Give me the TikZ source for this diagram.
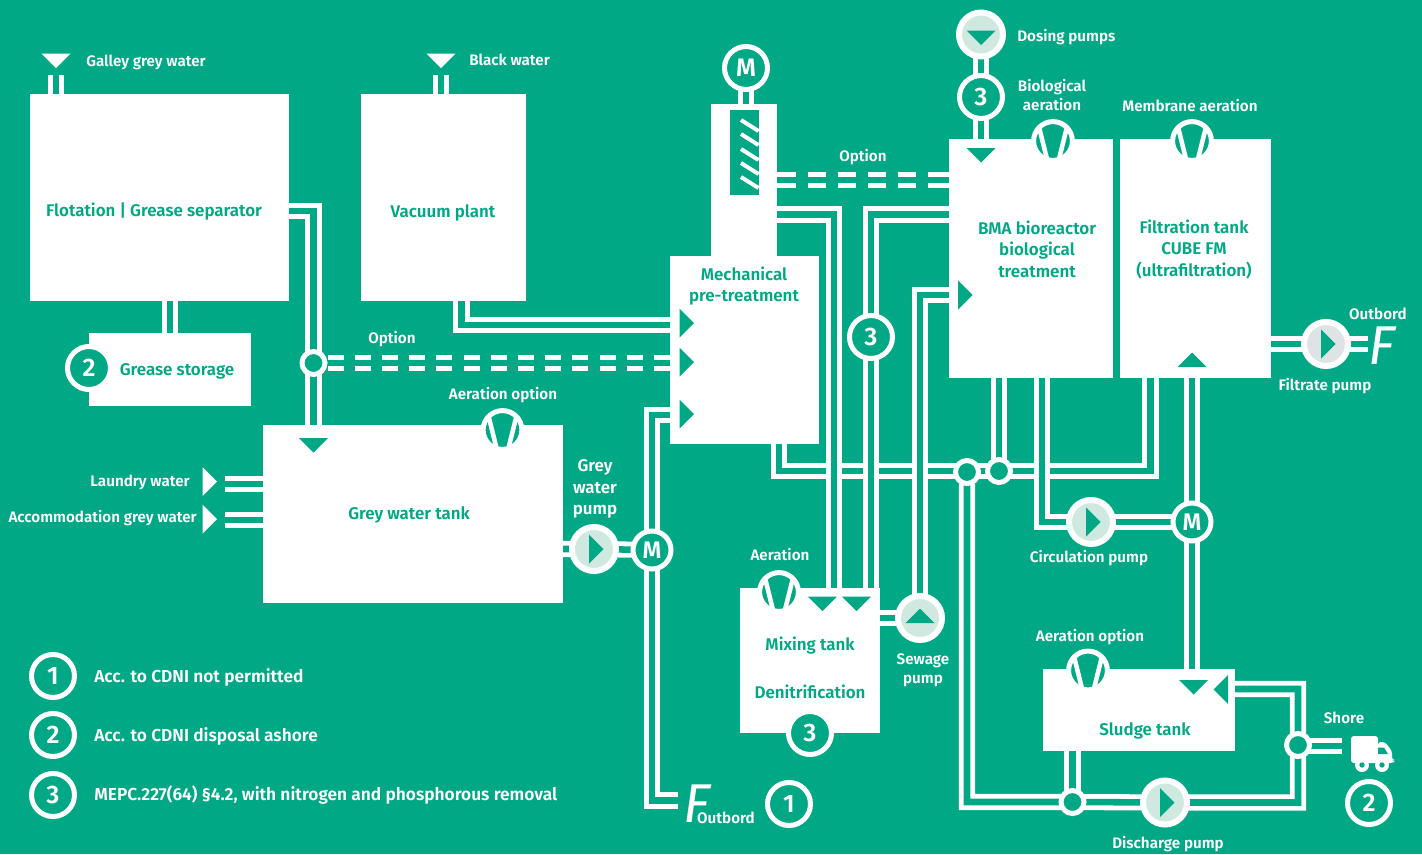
\documentclass[tikz,border=0pt]{standalone}
\usepackage{fontspec}
\setmainfont{Fira Sans}[BoldFont={Fira Sans SemiBold}]
\definecolor{bgreen}{RGB}{0,168,134}
\definecolor{lightdisk}{RGB}{207,232,224}
\definecolor{greydisk}{RGB}{222,227,230}
\pgfdeclarelayer{pipes}
\pgfsetlayers{pipes,main}
\tikzset{
  pipe/.style={draw=white,line width=3.6pt,double=bgreen,double distance=4.9pt},
  dashpipe/.style={pipe,dash pattern=on 12pt off 8.4pt},
  dashpipeb/.style={pipe,dash pattern=on 15.75pt off 9pt on 13.5pt off 9pt on 13.5pt off 9pt on 13.5pt off 9pt on 13.5pt off 9pt on 15pt off 9pt},
  tank/.style={fill=white,inner sep=0pt,outer sep=0pt,rectangle},
  ring/.style={circle,fill=bgreen,draw=white,line width=3.75pt,inner sep=0pt,outer sep=0pt,minimum size=32.25pt,text=white,font=\fontsize{19}{21}\selectfont\bfseries},
  motor/.style={ring,minimum size=28.5pt,font=\fontsize{18}{20}\selectfont\bfseries},
  junction/.style={ring,minimum size=17.25pt},
  pumpdisk/.style={circle,fill=lightdisk,draw=white,line width=4.5pt,inner sep=0pt,outer sep=0pt,minimum size=33pt},
  aerdisk/.style={circle,fill=bgreen,draw=white,line width=3.75pt,inner sep=0pt,outer sep=0pt,minimum size=29.1pt},
  lab/.style={text=white,inner sep=0pt,align=center,font=\fontsize{11.4}{14.2}\selectfont\bfseries},
  tlab/.style={text=bgreen,inner sep=0pt,align=center,font=\fontsize{12.7}{16.2}\selectfont\bfseries},
  leg/.style={text=white,inner sep=0pt,anchor=west,font=\fontsize{13}{15}\selectfont\bfseries},
  fmark/.style={text=white,inner sep=0pt,font=\fontsize{41}{41}\selectfont\itshape},
}
\newcommand\TriD[3][bgreen]{\fill[#1] (#2-14.5,#3) -- (#2+14.5,#3) -- (#2,#3+14.5) -- cycle;}
\newcommand\TriU[3][bgreen]{\fill[#1] (#2-14.5,#3) -- (#2+14.5,#3) -- (#2,#3-14.5) -- cycle;}
\newcommand\TriR[3][bgreen]{\fill[#1] (#2,#3-14.5) -- (#2,#3+14.5) -- (#2+14.5,#3) -- cycle;}
\newcommand\TriL[3][bgreen]{\fill[#1] (#2,#3-14.5) -- (#2,#3+14.5) -- (#2-14.5,#3) -- cycle;}
\newcommand\Tank[5]{\node[tank,minimum width={(#4-#2)*0.75pt},minimum height={(#5-#3)*0.75pt}] (#1) at ({(#2+#4)/2},{(#3+#5)/2}) {};}
\newcommand\Aerator[3]{%
  \node[aerdisk] (#1) at (#2,#3) {};
  \begin{scope}
    \clip (#2,#3) circle [radius=17.5];
    \draw[white,line width=3.4pt] (#2-15,#3-18) -- (#2-6,#3+18);
    \draw[white,line width=3.4pt] (#2+15,#3-18) -- (#2+6,#3+18);
  \end{scope}}
\begin{document}
\begin{tikzpicture}[x=0.75pt,y=-0.75pt]
\useasboundingbox (0,0) rectangle (1422,854);
\begin{pgfonlayer}{pipes}
\fill[bgreen] (0,0) rectangle (1422,854);
\end{pgfonlayer}
% tanks
\Tank{flot}{30}{94}{289}{301}
\Tank{grease}{89}{333}{251}{406}
\Tank{vac}{361}{94}{526}{301}
\Tank{gwt}{263}{425}{563}{603}
\Tank{tower}{711}{104}{777}{256}
\Tank{mech}{670}{256}{819}{444}
\Tank{bma}{949}{139}{1113}{378}
\Tank{fil}{1120}{139}{1271}{378}
\Tank{mix}{740}{588}{880}{733}
\Tank{sludge}{1043}{669}{1235}{751}
% screw
\fill[bgreen] (730,110) rectangle (758.5,195);
\foreach \yy in {120,134,149,163,177}
  \draw[white,line width=3pt] (741,\yy) -- (758.5,\yy+11);
% rings and pumps
\node[ring] (s1) at (789,804) {1};
\node[ring] (s2g) at (89,368) {2};
\node[ring] (s2s) at (1369,803) {2};
\node[ring] (s3a) at (871,337) {3};
\node[ring] (s3b) at (981,97) {3};
\node[ring] (s3c) at (810,733) {3};
\node[ring] (l1) at (53,676) {1};
\node[ring] (l2) at (53,735) {2};
\node[ring] (l3) at (53,795) {3};
\node[ring] (m0) at (746,68) {M};
\node[motor] (m1) at (652,550) {M};
\node[motor] (m2) at (1192,522) {M};
\node[junction] (j1) at (313.5,363) {};
\node[junction] (j2) at (967,472) {};
\node[junction] (j3) at (999,471) {};
\node[junction] (j4) at (1072.5,802) {};
\node[junction] (j5) at (1298,745) {};
\node[pumpdisk] (pgw) at (594,549) {};
\node[pumpdisk] (pcirc) at (1091,522) {};
\node[pumpdisk] (pdis) at (1165,802.5) {};
\node[pumpdisk] (psew) at (920,618) {};
\node[pumpdisk] (pdos) at (981,34.5) {};
\node[pumpdisk,fill=greydisk] (pfil) at (1326,344) {};
\TriR{589}{549}
\TriR{1086}{522}
\TriR{1160}{802.5}
\TriR{1321}{344}
\TriU{920}{623}
\TriD{981}{30.5}
% aerators
\Aerator{a1}{502.5}{430}
\Aerator{a2}{779}{592}
\Aerator{a3}{1053}{141}
\Aerator{a4}{1192}{141}
\Aerator{a5}{1088}{670.5}
% triangles
\TriD[white]{56}{53.5}
\TriD[white]{441}{53.5}
\TriR[white]{202.5}{481.5}
\TriR[white]{202.5}{519}
\TriD{313.5}{438}
\TriR{679.5}{323}
\TriR{679.5}{362}
\TriR{679.5}{414}
\TriD{981}{148}
\TriR{958}{295}
\TriU{1192}{367}
\TriD{822.5}{596.5}
\TriD{856.5}{596.5}
\TriD{1193.5}{680}
\TriL{1228}{689.5}
% named free ends
\coordinate (galleyin) at (56,75);
\coordinate (blackin) at (441,75);
\coordinate (laundry) at (225,484);
\coordinate (accom) at (225,520);
\coordinate (outF) at (678,800.5);
\coordinate (outG) at (1368,344);
\coordinate (shore) at (1342,746);
% pipes
\begin{pgfonlayer}{pipes}
\draw[pipe] (galleyin) -- (flot.north -| galleyin);
\draw[pipe] (blackin) -- (vac.north -| blackin);
\draw[pipe] (flot.east |- 0,211) -| (gwt.north -| j1);
\draw[pipe] (flot.south -| 170,0) -- (grease.north -| 170,0);
\draw[pipe] (vac.south -| 461.5,0) |- (mech.west |- 0,325);
\draw[dashpipe] (mech.west |- j1) -- (j1);
\draw[pipe] (laundry) -- (gwt.west |- laundry);
\draw[pipe] (accom) -- (gwt.west |- accom);
\draw[pipe] (gwt.east |- pgw) -- (pgw) -- (m1);
\draw[pipe] (mech.west |- 0,415) -| (m1);
\draw[pipe] (m1) |- (outF);
\draw[pipe] (mech.south -| 779,0) |- (1150.5,471) -- (fil.south -| 1150.5,0);
\draw[pipe] (bma.south -| j3) -- (j3);
\draw[pipe] (j2) |- (j4) -- (pdis) -| (j5) |- (sludge.east |- 0,689);
\draw[pipe] (sludge.south -| j4) -- (j4);
\draw[pipe] (j5) -- (j5 |- shore) -- (shore);
\draw[pipe] (bma.south -| 1042,0) |- (pcirc) -- (m2);
\draw[pipe] (fil.south -| m2) -- (m2) -- (sludge.north -| m2);
\draw[dashpipeb] (bma.west |- 0,180) -- (tower.east |- 0,180);
\draw[pipe] (tower.east |- 0,214.5) -| (mix.north -| 834,0);
\draw[pipe] (bma.west |- 0,214.5) -| (mix.north -| s3a);
\draw[pipe] (bma.west |- 0,295) -| (psew);
\draw[pipe] (mix.east |- psew) -- (psew);
\draw[pipe] (m0) -- (tower.north -| m0);
\draw[pipe] (pdos) -- (bma.north -| pdos);
\draw[pipe] (fil.east |- pfil) -- (pfil) -- (outG);
\end{pgfonlayer}
% truck
\begin{scope}
\fill[white,rounded corners=2.2pt] (1351,736) rectangle (1378,763);
\fill[white,rounded corners=2.2pt] (1378,742) -- (1385,742) -- (1392,751) -- (1392,760) -- (1394,760) -- (1394,763) -- (1378,763) -- cycle;
\fill[bgreen] (1378,747.5) -- (1384,747.5) -- (1388,754) -- (1378,754) -- cycle;
\foreach \wx in {1362,1382} {
  \fill[white] (\wx,765) circle [radius=7];
  \fill[bgreen] (\wx,765) circle [radius=2.7];
}
\end{scope}
% labels
\node[lab,anchor=west] (t1) at (86,62) {Galley grey water};
\node[lab,anchor=west] (t2) at (469,60) {Black water};
\node[tlab] (t3) at (154,212) {Flotation | Grease separator};
\node[tlab] (t4) at (443,213) {Vacuum plant};
\node[tlab] (t5) at (177,371) {Grease storage};
\node[lab] (t6) at (392,339) {Option};
\node[lab] (t7) at (503,395) {Aeration option};
\node[tlab] (t8) at (409,515) {Grey water tank};
\node[lab,anchor=east] (t9) at (190,482) {Laundry water};
\node[lab,anchor=east] (t10) at (197,518) {Accommodation grey water};
\node[lab,font=\fontsize{12.7}{16.2}\selectfont\bfseries] (t11) at (595,489) {Grey\\water\\pump};
\node[tlab] (t12) at (744,286) {Mechanical\\pre-treatment};
\node[lab] (t13) at (863,157) {Option};
\node[lab,anchor=west] (t14) at (1017,37) {Dosing pumps};
\node[lab] (t15) at (1052,95) {Biological\\aeration};
\node[lab] (t16) at (1190,106) {Membrane aeration};
\node[tlab] (t17) at (1037,249) {BMA bioreactor\\biological\\treatment};
\node[tlab] (t18) at (1194,249.5) {Filtration tank\\CUBE FM\\(ultrafiltration)};
\node[lab] (t19) at (1378,314) {Outbord};
\node[lab] (t20) at (1325,386) {Filtrate pump};
\node[lab] (t21) at (1089,558) {Circulation pump};
\node[lab] (t22) at (780,555) {Aeration};
\node[tlab] (t23) at (810,646) {Mixing tank};
\node[tlab] (t24) at (810,692) {Denitrification};
\node[lab] (t25) at (923,670) {Sewage\\pump};
\node[lab] (t26) at (1090,637) {Aeration option};
\node[tlab] (t27) at (1145,731) {Sludge tank};
\node[lab] (t28) at (1344,718) {Shore};
\node[lab] (t29) at (1168,844) {Discharge pump};
\node[lab] (t30) at (726,818) {Outbord};
\node[leg] (t31) at (94,677) {Acc. to CDNI not permitted};
\node[leg] (t32) at (94,736) {Acc. to CDNI disposal ashore};
\node[leg] (t33) at (94,795) {MEPC.227(64) §4.2, with nitrogen and phosphorous removal};
\node[fmark] (f1) at (697,804) {F};
\node[fmark] (f2) at (1382,346) {F};
\end{tikzpicture}
\end{document}
